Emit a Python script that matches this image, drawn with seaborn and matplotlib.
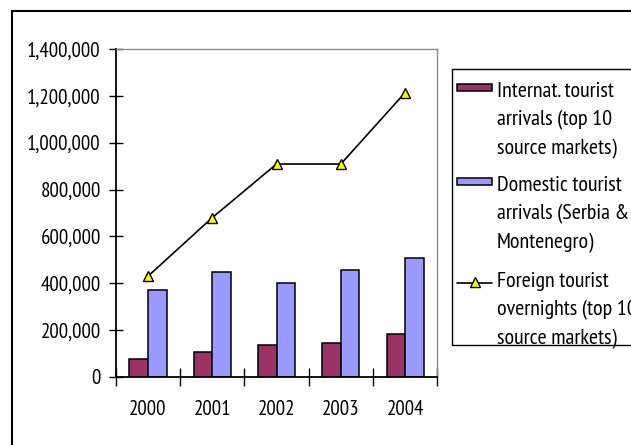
import numpy as np
import pandas as pd
import matplotlib
matplotlib.use("Agg")
import matplotlib.pyplot as plt
from matplotlib.patches import Rectangle
from matplotlib.lines import Line2D
from matplotlib.ticker import FuncFormatter
import seaborn as sns

# --- data -------------------------------------------------------------
years = ["2000", "2001", "2002", "2003", "2004"]
intl_arrivals = [75000, 105000, 135000, 143000, 182000]
domestic_arrivals = [370000, 447000, 400000, 455000, 508000]
foreign_overnights = [430000, 680000, 909000, 909000, 1214000]

series_names = [
    "Internat. tourist\narrivals (top 10\nsource markets)",
    "Domestic tourist\narrivals (Serbia &\nMontenegro)",
    "Foreign tourist\novernights (top 10\nsource markets)",
]
y_ticks = [0, 200000, 400000, 600000, 800000, 1000000, 1200000, 1400000]

maroon = "#993366"
lavender = "#9999FF"

bars = pd.DataFrame({
    "Year": years * 2,
    "Value": intl_arrivals + domestic_arrivals,
    "Series": [series_names[0]] * len(years) + [series_names[1]] * len(years),
})

sns.set_theme(style="white")
plt.rcParams["font.family"] = ["PT Sans Narrow", "Liberation Sans", "DejaVu Sans"]
FS_TICK = 15
FS_LEG = 15.8

W, H = 631, 445
fig = plt.figure(figsize=(W / 100, H / 100), dpi=100)
fig.patch.set_facecolor("white")

def px(x, y):
    """figure pixel (from top-left) -> figure fraction"""
    return x / W, 1 - y / H

# outer frame around the whole chart
fig.add_artist(Rectangle(px(12, H + 20), 1.2, (H + 20 - 11) / H,
                         transform=fig.transFigure, fill=False,
                         edgecolor="black", linewidth=1.5))

ax_l, ax_r, ax_t, ax_b = 115.8, 437.3, 49, 377
ax = fig.add_axes([ax_l / W, (H - ax_b) / H, (ax_r - ax_l) / W, (ax_b - ax_t) / H])

sns.barplot(data=bars, x="Year", y="Value", hue="Series",
            palette=[maroon, lavender], width=0.58, gap=0,
            edgecolor="black", linewidth=1.1, saturation=1,
            legend=False, ax=ax, zorder=2)

sns.pointplot(x=years, y=foreign_overnights, color="black", markers="^",
              linestyles="-", errorbar=None, markersize=7, linewidth=1.2,
              ax=ax, zorder=3)
for ln in ax.lines:
    ln.set_markerfacecolor("#FFFF00")
    ln.set_markeredgecolor("black")
    ln.set_markeredgewidth(1.0)

ax.set_xlim(-0.5, len(years) - 0.5)
ax.set_ylim(0, 1400000)
ax.set_yticks(y_ticks)
ax.yaxis.set_major_formatter(FuncFormatter(lambda v, p: f"{v:,.0f}"))
ax.set_xlabel("")
ax.set_ylabel("")

# category separators on the x axis, labels centred between them
ax.set_xticks(np.arange(-0.5, len(years), 1.0), minor=True)
ax.tick_params(axis="x", which="major", length=0, pad=16.5, labelsize=FS_TICK, colors="black")
ax.tick_params(axis="x", which="minor", direction="inout", length=13, width=1.0,
               color="black", bottom=True)
ax.tick_params(axis="y", which="major", direction="inout", length=10, width=1.0,
               color="black", left=True, pad=5.8, labelsize=FS_TICK, labelcolor="black")

for side in ("left", "bottom"):
    ax.spines[side].set_color("black")
    ax.spines[side].set_linewidth(1.3)
for side in ("top", "right"):
    ax.spines[side].set_visible(True)
    ax.spines[side].set_color("#8c8c8c")
    ax.spines[side].set_linewidth(1.0)
ax.grid(False)

# legend box, running off the right edge
fig.add_artist(Rectangle(px(452, 345), 0.5, (345 - 69) / H,
                         transform=fig.transFigure, fill=False,
                         edgecolor="black", linewidth=1.0))

key_x0, key_x1, text_x = 457, 492, 497
first_baselines = [97, 191, 287]
line_step = 28.5
key_colors = [maroon, lavender, None]
for name, base, col in zip(series_names, first_baselines, key_colors):
    if col is not None:
        fig.add_artist(Rectangle(px(key_x0, base - 6), (key_x1 - key_x0) / W, 7 / H,
                                 transform=fig.transFigure, facecolor=col,
                                 edgecolor="black", linewidth=1.1))
    else:
        key_y = base - 4
        fig.add_artist(Line2D([key_x0 / W, key_x1 / W], [1 - key_y / H] * 2,
                              transform=fig.transFigure, color="black",
                              linewidth=1.2))
        fig.add_artist(Line2D([(key_x0 + key_x1) / 2 / W], [1 - (key_y - 1) / H],
                              transform=fig.transFigure, marker="^", markersize=7,
                              markerfacecolor="#FFFF00", markeredgecolor="black",
                              markeredgewidth=1.0, linestyle="none"))
    for i, line in enumerate(name.split("\n")):
        fig.text(*px(text_x, base + i * line_step), line, fontsize=FS_LEG,
                 ha="left", va="baseline", color="black")

fig.savefig("out.png", dpi=100)
